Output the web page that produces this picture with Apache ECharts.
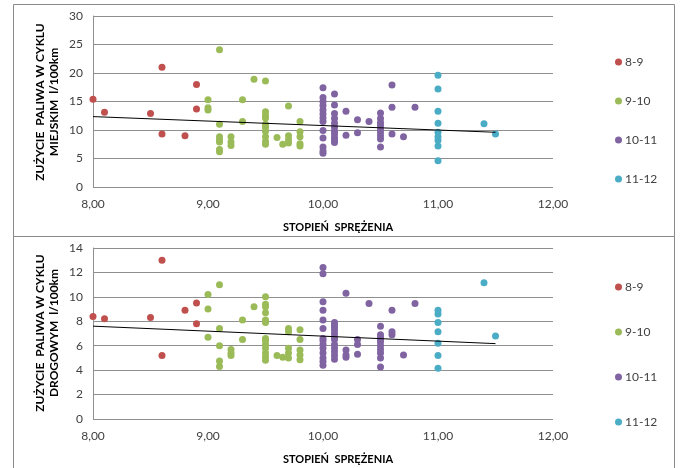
<!DOCTYPE html>
<html>
<head>
<meta charset="utf-8">
<script src="https://cdn.jsdelivr.net/npm/echarts@6/dist/echarts.min.js"></script>
<style>
  html, body { margin: 0; padding: 0; background: #fff; }
  #chart { width: 682px; height: 468px; }
</style>
</head>
<body>
<div id="chart"></div>
<script>
// Compression ratio groups
const groups = ['8-9', '9-10', '10-11', '11-12'];
const groupColors = ['#C0504D', '#9BBB59', '#8064A2', '#4BACC6'];

// Urban-cycle fuel consumption [compression ratio, l/100km]
const city_8_9 = [[8.0, 15.4], [8.1, 13.1], [8.5, 12.9], [8.6, 21.0], [8.6, 9.3], [8.8, 9.0], [8.9, 18.0], [8.9, 13.7]];
const city_9_10 = [
  [9.0, 15.3], [9.0, 13.9], [9.0, 13.5],
  [9.1, 24.1], [9.1, 11.0], [9.1, 8.8], [9.1, 8.3], [9.1, 7.9], [9.1, 6.6], [9.1, 6.2],
  [9.2, 8.8], [9.2, 7.9], [9.2, 7.3],
  [9.3, 15.3], [9.3, 11.5], [9.4, 18.9],
  [9.5, 18.6], [9.5, 13.2], [9.5, 12.6], [9.5, 12.1], [9.5, 11.0], [9.5, 10.5], [9.5, 9.8], [9.5, 8.8], [9.5, 8.0], [9.5, 7.5],
  [9.6, 8.7], [9.65, 7.5],
  [9.7, 14.2], [9.7, 9.0], [9.7, 8.3], [9.7, 7.7],
  [9.8, 11.5], [9.8, 9.7], [9.8, 8.8], [9.8, 7.6], [9.8, 7.2]
];
const city_10_11 = [
  [10.0, 17.4], [10.0, 15.7], [10.0, 15.0], [10.0, 14.3], [10.0, 13.5], [10.0, 12.8], [10.0, 12.1], [10.0, 11.5], [10.0, 9.9], [10.0, 8.6], [10.0, 7.0], [10.0, 6.3], [10.0, 5.9],
  [10.1, 16.3], [10.1, 14.4], [10.1, 12.9], [10.1, 12.0], [10.1, 11.2], [10.1, 10.5], [10.1, 9.8], [10.1, 9.3], [10.1, 8.7], [10.1, 8.2], [10.1, 7.8],
  [10.2, 13.3], [10.2, 9.1], [10.3, 11.8], [10.3, 9.5], [10.4, 11.5],
  [10.5, 13.0], [10.5, 12.0], [10.5, 11.3], [10.5, 10.8], [10.5, 10.2], [10.5, 9.6], [10.5, 9.0], [10.5, 8.4], [10.5, 7.0],
  [10.6, 17.9], [10.6, 14.0], [10.6, 9.3], [10.7, 8.8], [10.8, 14.0]
];
const city_11_12 = [[11.0, 19.6], [11.0, 17.2], [11.0, 13.3], [11.0, 11.2], [11.0, 9.6], [11.0, 8.8], [11.0, 8.2], [11.0, 7.2], [11.0, 4.6], [11.4, 11.1], [11.5, 9.3]];
// Linear trend of the urban cycle (start and end)
const city_trend = [[8.0, 12.35], [11.5, 9.6]];

// Highway-cycle fuel consumption [compression ratio, l/100km]
const road_8_9 = [[8.0, 8.4], [8.1, 8.2], [8.5, 8.3], [8.6, 13.0], [8.6, 5.2], [8.8, 8.9], [8.9, 9.5], [8.9, 7.8]];
const road_9_10 = [
  [9.0, 10.2], [9.0, 9.0], [9.0, 6.7],
  [9.1, 11.0], [9.1, 7.4], [9.1, 6.0], [9.1, 4.75], [9.1, 4.3],
  [9.2, 5.7], [9.2, 5.4], [9.2, 5.2],
  [9.3, 8.1], [9.3, 6.5], [9.4, 9.2],
  [9.5, 10.0], [9.5, 9.4], [9.5, 9.2], [9.5, 8.7], [9.5, 8.1], [9.5, 7.9], [9.5, 6.6], [9.5, 6.4], [9.5, 6.1], [9.5, 5.8], [9.5, 5.4], [9.5, 5.1], [9.5, 4.8],
  [9.6, 5.2], [9.65, 5.05],
  [9.7, 7.4], [9.7, 7.15], [9.7, 5.8], [9.7, 5.4], [9.7, 5.0],
  [9.8, 7.3], [9.8, 6.5], [9.8, 5.65], [9.8, 5.25], [9.8, 4.85]
];
const road_10_11 = [
  [10.0, 12.4], [10.0, 11.9], [10.0, 9.6], [10.0, 8.9], [10.0, 8.1], [10.0, 7.4], [10.0, 6.6], [10.0, 6.4], [10.0, 6.1], [10.0, 5.8], [10.0, 5.4], [10.0, 5.0], [10.0, 4.7], [10.0, 4.4],
  [10.1, 7.9], [10.1, 7.7], [10.1, 7.5], [10.1, 7.3], [10.1, 7.0], [10.1, 6.7], [10.1, 6.5], [10.1, 6.1], [10.1, 5.8], [10.1, 5.5], [10.1, 5.2], [10.1, 4.9],
  [10.2, 10.3], [10.2, 5.65], [10.2, 5.25], [10.2, 5.05],
  [10.3, 6.5], [10.3, 6.1], [10.3, 5.3], [10.4, 9.45],
  [10.5, 7.6], [10.5, 6.9], [10.5, 6.7], [10.5, 6.5], [10.5, 6.3], [10.5, 6.0], [10.5, 5.7], [10.5, 5.4], [10.5, 5.0], [10.5, 4.25],
  [10.6, 8.9], [10.6, 7.15], [10.6, 6.9], [10.7, 5.25], [10.8, 9.45]
];
const road_11_12 = [[11.0, 8.9], [11.0, 8.6], [11.0, 7.9], [11.0, 7.15], [11.0, 6.2], [11.0, 5.2], [11.0, 4.15], [11.4, 11.15], [11.5, 6.8]];
// Linear trend of the highway cycle (start and end)
const road_trend = [[8.0, 7.6], [11.5, 6.17]];

// Axis ranges and labels
const xTicks = [8, 9, 10, 11, 12];
const cityTicks = [0, 5, 10, 15, 20, 25, 30];
const roadTicks = [0, 2, 4, 6, 8, 10, 12, 14];
const xTitle = 'STOPIEŃ  SPRĘŻENIA';
const cityTitle = 'ZUŻYCIE  PALIWA W CYKLU\nMIEJSKIM  l/100km';
const roadTitle = 'ZUŻYCIE  PALIWA W CYKLU\nDROGOWYM  l/100km';

const citySets = [city_8_9, city_9_10, city_10_11, city_11_12];
const roadSets = [road_8_9, road_9_10, road_10_11, road_11_12];

const FONT = 'Lato, "Open Sans", sans-serif';
const gridColor = '#8f8f8f';

function xAxisFor(gridIndex) {
  return {
    type: 'value', gridIndex,
    min: xTicks[0], max: xTicks[xTicks.length - 1], interval: 1,
    axisLine: { show: false }, axisTick: { show: false },
    splitLine: { show: false },
    axisLabel: {
      margin: 11, color: '#404040', fontFamily: FONT, fontSize: 12,
      formatter: v => v.toFixed(2).replace('.', ',')
    }
  };
}
function yAxisFor(gridIndex, ticks) {
  return {
    type: 'value', gridIndex,
    min: ticks[0], max: ticks[ticks.length - 1], interval: ticks[1] - ticks[0],
    axisLine: { show: true, lineStyle: { color: gridColor, width: 1 } },
    axisTick: { show: false },
    splitLine: { show: true, lineStyle: { color: gridColor, width: 1 } },
    axisLabel: { margin: 10, color: '#404040', fontFamily: FONT, fontSize: 12 }
  };
}

const series = [];
[[citySets, city_trend], [roadSets, road_trend]].forEach(([sets, trend], gi) => {
  sets.forEach((data, k) => {
    series.push({
      name: groups[k], type: 'scatter',
      xAxisIndex: gi, yAxisIndex: gi,
      data, symbolSize: 7,
      itemStyle: { color: groupColors[k], opacity: 1 },
      emphasis: { disabled: true }
    });
  });
  series.push({
    name: 'trend' + gi, type: 'line',
    xAxisIndex: gi, yAxisIndex: gi,
    data: trend, symbol: 'none',
    lineStyle: { color: '#000', width: 1 }, z: 3,
    silent: true
  });
});

function legendAt(top, gap) {
  return {
    orient: 'vertical', left: 610, top, itemGap: gap,
    icon: 'circle', itemWidth: 7, itemHeight: 7,
    data: groups,
    textStyle: { fontFamily: FONT, fontSize: 12, color: '#404040', padding: [0, 0, 0, -2] },
    selectedMode: false
  };
}

function axisText(x, y, text, rotation, size) {
  return {
    type: 'text', x, y, rotation,
    style: {
      text, fill: '#000', font: 'bold ' + size + 'px ' + FONT,
      textAlign: 'center', textVerticalAlign: 'middle', lineHeight: 14
    }
  };
}

const chart = echarts.init(document.getElementById('chart'), null, { renderer: 'canvas' });
chart.setOption({
  animation: false,
  backgroundColor: '#fff',
  grid: [
    { left: 93, width: 460, top: 16, height: 171 },
    { left: 93, width: 460, top: 248, height: 171 }
  ],
  xAxis: [xAxisFor(0), xAxisFor(1)],
  yAxis: [yAxisFor(0, cityTicks), yAxisFor(1, roadTicks)],
  legend: [legendAt(51, 27), legendAt(276, 33)],
  series,
  graphic: [
    { type: 'rect', shape: { x: 13.5, y: 4.5, width: 661, height: 232 }, style: { fill: 'none', stroke: '#8a8a8a', lineWidth: 1 } },
    { type: 'rect', shape: { x: 13.5, y: 236.5, width: 661, height: 240 }, style: { fill: 'none', stroke: '#8a8a8a', lineWidth: 1 } },
    axisText(338, 227, xTitle, 0, 11),
    axisText(338, 459, xTitle, 0, 11),
    axisText(47, 102, cityTitle, Math.PI / 2, 12),
    axisText(47, 333, roadTitle, Math.PI / 2, 12)
  ]
});
</script>
</body>
</html>
